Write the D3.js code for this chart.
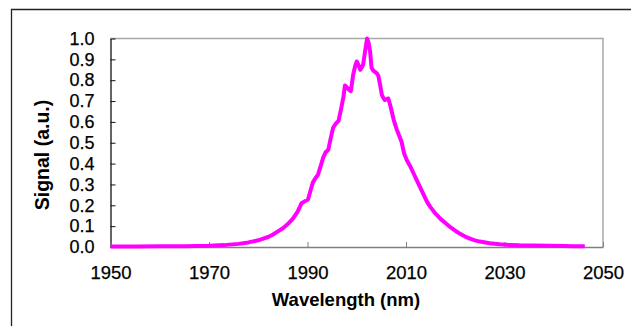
<!DOCTYPE html>
<html><head><meta charset="utf-8">
<script src="https://cdn.jsdelivr.net/npm/d3@7"></script>
<style>html,body{margin:0;padding:0;background:#fff;}svg{display:block;}</style>
</head><body>
<script>
const wavelength = [1950,1955,1960,1965,1970,1973,1976,1978,1980,1981,1982,1983,1984,1985,1986,1987,1988,1988.8,1989.5,1990.1,1990.6,1991.1,1991.6,1992.1,1992.7,1993.2,1993.7,1994.2,1994.7,1995.2,1995.7,1996.3,1996.8,1997.3,1997.6,1998.0,1998.4,1998.8,1999.3,1999.7,2000.0,2000.4,2000.7,2001.0,2001.3,2001.7,2002.1,2002.4,2002.7,2003.0,2003.4,2003.7,2004.1,2004.4,2004.8,2005.1,2005.4,2005.7,2006.1,2006.4,2006.8,2007.1,2007.5,2008.1,2008.6,2009.1,2009.6,2010.2,2010.8,2011.5,2012.2,2012.9,2013.6,2014.3,2015,2016,2017,2018,2019,2020,2021,2022,2023,2024,2025,2027,2029,2031,2033,2036,2039,2042,2044,2046.3];
const signal = [0.002,0.002,0.003,0.004,0.006,0.009,0.015,0.022,0.032,0.04,0.048,0.06,0.075,0.09,0.11,0.135,0.17,0.21,0.22,0.228,0.27,0.31,0.33,0.345,0.39,0.43,0.455,0.465,0.52,0.572,0.59,0.605,0.66,0.72,0.775,0.765,0.755,0.748,0.83,0.87,0.89,0.87,0.85,0.86,0.875,0.94,1.0,0.98,0.94,0.86,0.845,0.84,0.832,0.82,0.77,0.73,0.715,0.705,0.71,0.712,0.68,0.65,0.61,0.565,0.535,0.505,0.45,0.415,0.39,0.355,0.32,0.285,0.25,0.215,0.19,0.16,0.135,0.115,0.095,0.078,0.063,0.05,0.04,0.032,0.026,0.018,0.013,0.01,0.008,0.007,0.006,0.005,0.004,0.003];
const xTicks = [1950,1970,1990,2010,2030,2050];
const yTicks = [0,0.1,0.2,0.3,0.4,0.5,0.6,0.7,0.8,0.9,1.0];
const xTitle = "Wavelength (nm)";
const yTitle = "Signal (a.u.)";

const W = 631, H = 326;
const L = 110.5, R = 603, T = 38.5, B = 247;
const FONT = "Liberation Sans, Arial, sans-serif";
const svg = d3.select("body").append("svg").attr("width", W).attr("height", H);

// outer frame
svg.append("path").attr("d", `M11.5,${H+2}V9.5H${W+2}`).attr("fill","none").attr("stroke","#222").attr("stroke-width",1.3);

const x = d3.scaleLinear().domain([1950,2050]).range([L,R]);
const y = d3.scaleLinear().domain([0,1]).range([B,T]);

// plot border top/right
svg.append("path").attr("d", `M${L},${T}H${R}V${B}`).attr("fill","none").attr("stroke","#a8a8a8").attr("stroke-width",1.5);

// y axis
const yAxis = d3.axisLeft(y).tickValues(yTicks).tickSizeInner(-5).tickSizeOuter(0).tickFormat(d3.format(".1f"));
const gy = svg.append("g").attr("transform",`translate(${L},0)`).call(yAxis);
gy.select(".domain").attr("stroke","#111").attr("stroke-width",1.3);
gy.selectAll(".tick line").attr("stroke","#111").attr("stroke-width",1);
gy.selectAll(".tick text").attr("font-family",FONT).attr("font-size",18).attr("fill","#000")
  .attr("stroke","#000").attr("stroke-width",0.25).attr("x",-16);

// x axis
const xAxis = d3.axisBottom(x).tickValues(xTicks).tickSizeInner(-5).tickSizeOuter(0).tickFormat(d3.format("d"));
const gx = svg.append("g").attr("transform",`translate(0,${B})`).call(xAxis);
gx.select(".domain").attr("stroke","#808080").attr("stroke-width",1.5);
gx.selectAll(".tick line").attr("stroke","#808080").attr("stroke-width",1);
gx.selectAll(".tick text").attr("font-family",FONT).attr("font-size",18.5).attr("fill","#000")
  .attr("stroke","#000").attr("stroke-width",0.25).attr("dy",null).attr("y",32);

// line
const line = d3.line().x((d,i)=>x(wavelength[i])).y(d=>y(d));
svg.append("path").datum(signal).attr("d", line).attr("fill","none").attr("stroke","#ff00ff").attr("stroke-width",4).attr("stroke-linejoin","round").attr("stroke-linecap","butt");

// titles
svg.append("text").attr("x", 346).attr("y", 306).attr("text-anchor","middle")
  .attr("font-family",FONT).attr("font-weight","bold").attr("font-size",18.5).text(xTitle);
svg.append("text").attr("transform","translate(49,155) rotate(-90)").attr("text-anchor","middle")
  .attr("font-family",FONT).attr("font-weight","bold").attr("font-size",19.5).text(yTitle);
</script>
</body></html>
